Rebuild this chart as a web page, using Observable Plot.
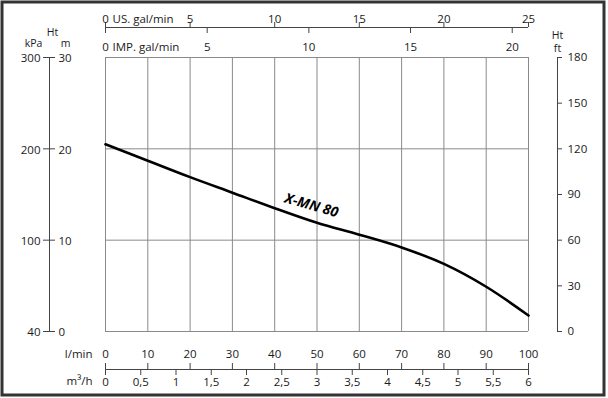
<!DOCTYPE html>
<html><head><meta charset="utf-8">
<script src="https://cdn.jsdelivr.net/npm/d3@7"></script>
<script src="https://cdn.jsdelivr.net/npm/@observablehq/plot@0.6"></script>
<style>body{margin:0;background:#fff} svg{display:block}</style>
</head><body><div id="chart"></div>
<script>
// ---- data ----
const flowLpm = [0, 10, 20, 30, 40, 50, 60, 70, 80, 90, 100];
const headM   = [20.5, 18.7, 16.9, 15.2, 13.5, 11.9, 10.6, 9.2, 7.4, 4.9, 1.75];
const lpmTicks = [0, 10, 20, 30, 40, 50, 60, 70, 80, 90, 100];
const m3hTicks = [0, 0.5, 1, 1.5, 2, 2.5, 3, 3.5, 4, 4.5, 5, 5.5, 6];
const usGalTicks = [0, 5, 10, 15, 20, 25];
const impGalTicks = [0, 5, 10, 15, 20];
const mTicks = [0, 10, 20, 30];
const kPaLabels = ["40", "100", "200", "300"];
const ftTicks = [0, 30, 60, 90, 120, 150, 180];
const seriesName = "X-MN 80";
const seriesLabelAt = {q: 48.7, h: 13.8};

// unit conversions as drawn on the chart
const US_TO_LPM = 100 / 25, IMP_TO_LPM = 100 / 20.8, M3H_TO_LPM = 100 / 6, FT_TO_M = 30 / 180;

const curve = flowLpm.map((q, i) => ({q, h: headM[i]}));
const comma = d => String(d).replace(".", ",");
const grid = "#8a8a8a", axisC = "#444", txt = "#1a1a1a";

const label = (s, frameAnchor, dx, dy, textAnchor = "middle", fontSize = 11.5) =>
  Plot.text([s], {frameAnchor, dx, dy, textAnchor, fontSize, text: d => d, fill: txt});

const chart = Plot.plot({
  width: 608, height: 398,
  marginLeft: 105, marginRight: 80, marginTop: 57, marginBottom: 67,
  x: {domain: [0, 100], axis: null},
  y: {domain: [0, 30], axis: null},
  style: {fontFamily: "Open Sans", fontSize: "11.5px", color: txt, background: "#fff"},
  marks: [
    // outer border
    Plot.frame({stroke: "#333", strokeWidth: 3, insetLeft: -103.5, insetTop: -55.5, insetRight: -75.5, insetBottom: -63.5}),
    // grid
    Plot.ruleX(lpmTicks, {x: d => d, stroke: grid}),
    Plot.ruleY(mTicks, {y: d => d, stroke: grid}),
    // top axes
    Plot.ruleY([30], {y: d => d, dy: -30, stroke: axisC}),
    Plot.ruleX(usGalTicks, {x: d => d * US_TO_LPM, insetTop: -35, insetBottom: 304, stroke: axisC}),
    Plot.ruleX(impGalTicks, {x: d => d * IMP_TO_LPM, insetTop: -30, insetBottom: 298, stroke: axisC}),
    Plot.text(usGalTicks, {x: d => d * US_TO_LPM, text: d => String(d), frameAnchor: "top", dy: -43, fill: txt}),
    Plot.text(impGalTicks, {x: d => d * IMP_TO_LPM, text: d => String(d), frameAnchor: "top", dy: -15, fill: txt}),
    label("US. gal/min", "top-left", 7, -43, "start"),
    label("IMP. gal/min", "top-left", 7, -15, "start"),
    // bottom axes
    Plot.ruleY([0], {y: d => d, dy: 38, stroke: axisC}),
    Plot.ruleX(lpmTicks, {x: d => d, insetTop: 306, insetBottom: -38, stroke: axisC}),
    Plot.ruleX(m3hTicks, {x: d => d * M3H_TO_LPM, insetTop: 312, insetBottom: -44, stroke: axisC}),
    Plot.text(lpmTicks, {x: d => d, text: d => String(d), frameAnchor: "bottom", dy: 26, fill: txt}),
    Plot.text(m3hTicks, {x: d => d * M3H_TO_LPM, text: comma, frameAnchor: "bottom", dy: 54, fill: txt}),
    label("l/min", "bottom-left", -13, 26, "end"),
    label("m³/h", "bottom-left", -13, 53, "end"),
    // left axis (kPa / m)
    Plot.ruleX([0], {x: d => d, dx: -56, stroke: axisC}),
    Plot.ruleY(mTicks, {y: d => d, insetLeft: -62, insetRight: 473, stroke: axisC}),
    Plot.text(mTicks, {y: d => d, text: (d, i) => kPaLabels[i], frameAnchor: "left", dx: -65, dy: 1, textAnchor: "end", fill: txt}),
    Plot.text(mTicks, {y: d => d, text: d => String(d), frameAnchor: "left", dx: -47, dy: 1, textAnchor: "start", fill: txt}),
    label("Ht", "top-left", -53, -29, "middle", 10.5),
    label("kPa", "top-left", -72, -18, "middle", 10.5),
    label("m", "top-left", -40, -18, "middle", 10.5),
    // right axis (ft)
    Plot.ruleX([100], {x: d => d, dx: 29, stroke: axisC}),
    Plot.ruleY(ftTicks, {y: d => d * FT_TO_M, insetLeft: 452, insetRight: -34, stroke: axisC}),
    Plot.text(ftTicks, {y: d => d * FT_TO_M, text: d => String(d), frameAnchor: "right", dx: 39, textAnchor: "start", fill: txt}),
    label("Ht", "top-right", 29, -26, "middle", 10.5),
    label("ft", "top-right", 29, -13, "middle", 10.5),
    // curve
    Plot.line(curve, {x: "q", y: "h", stroke: "#000", strokeWidth: 2.6, curve: "catmull-rom"}),
    Plot.text([seriesLabelAt], {x: "q", y: "h", text: () => seriesName, rotate: 16, fontWeight: "bold", fontStyle: "italic", fontSize: 14, fill: "#000"})
  ]
});
document.getElementById("chart").append(chart);
</script>
</body></html>
